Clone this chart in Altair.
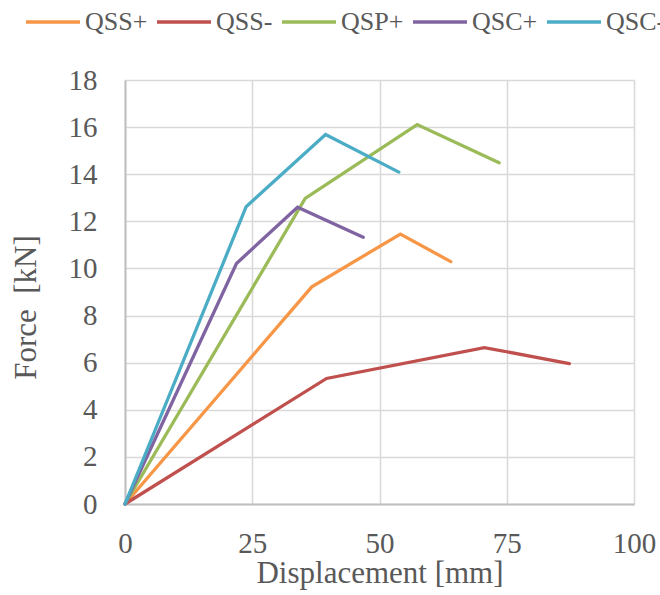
import altair as alt
import pandas as pd

series_names = ["QSS+", "QSS-", "QSP+", "QSC+", "QSC-"]
colors = ["#F79646", "#C0504D", "#9BBB59", "#8064A2", "#4BACC6"]

qss_pos_x = [0, 36.7, 54.1, 64.0]
qss_pos_y = [0, 9.22, 11.46, 10.29]
qss_neg_x = [0, 39.6, 70.6, 87.3]
qss_neg_y = [0, 5.33, 6.64, 5.96]
qsp_pos_x = [0, 35.4, 57.4, 73.5]
qsp_pos_y = [0, 12.97, 16.11, 14.49]
qsc_pos_x = [0, 21.9, 33.9, 46.8]
qsc_pos_y = [0, 10.21, 12.6, 11.32]
qsc_neg_x = [0, 23.8, 39.4, 53.8]
qsc_neg_y = [0, 12.62, 15.69, 14.09]

xs = [qss_pos_x, qss_neg_x, qsp_pos_x, qsc_pos_x, qsc_neg_x]
ys = [qss_pos_y, qss_neg_y, qsp_pos_y, qsc_pos_y, qsc_neg_y]

rows = []
for name, xv, yv in zip(series_names, xs, ys):
    for i, (a, b) in enumerate(zip(xv, yv)):
        rows.append({"series": name, "idx": i, "disp": a, "force": b})
df = pd.DataFrame(rows)

FONT = "'Liberation Serif', 'Times New Roman', serif"
TXT = "#595959"

chart = alt.Chart(df).mark_line(strokeWidth=3.3, strokeCap="round", strokeJoin="miter").encode(
    x=alt.X("disp:Q",
            scale=alt.Scale(domain=[0, 100], nice=False, zero=False),
            axis=alt.Axis(values=[0, 25, 50, 75, 100], title="Displacement [mm]",
                          ticks=False, labelPadding=48, labelBaseline="alphabetic",
                          labelFontSize=29, labelFont=FONT,
                          labelColor=TXT, titleFont=FONT, titleFontSize=31, titleColor=TXT,
                          titleFontWeight="normal", titleBaseline="alphabetic", titleY=78,
                          domainColor="#bfbfbf", domainWidth=2, gridColor="#d9d9d9", gridWidth=1.6,
                          labelFlush=False)),
    y=alt.Y("force:Q",
            scale=alt.Scale(domain=[0, 18], nice=False, zero=False),
            axis=alt.Axis(values=list(range(0, 19, 2)), title="Force\u00a0 [kN]",
                          ticks=False, labelPadding=28, labelFontSize=29, labelFont=FONT,
                          labelColor=TXT, titleFont=FONT, titleFontSize=31, titleColor=TXT,
                          titleFontWeight="normal", titleBaseline="alphabetic", titleX=-90,
                          titleY=227, titleAngle=270,
                          domainColor="#bfbfbf", domainWidth=2, gridColor="#d9d9d9", gridWidth=1.6,
                          labelFlush=False)),
    color=alt.Color("series:N",
                    scale=alt.Scale(domain=series_names, range=colors),
                    legend=alt.Legend(title=None, orient="none", direction="horizontal",
                                      legendX=-101, legendY=-87, symbolType="stroke",
                                      symbolSize=2916, symbolStrokeWidth=3.3,
                                      labelFont=FONT, labelFontSize=26, labelColor=TXT,
                                      labelOffset=3, columnPadding=2, labelLimit=200)),
    order="idx:Q",
).properties(
    width=509, height=424,
    autosize=alt.AutoSizeParams(type="none"),
    padding={"left": 125, "top": 80, "right": 26, "bottom": 91},
).configure_view(stroke=None).configure(background="white", font=FONT)

chart.save("out.html", embed_options={"renderer": "svg", "actions": False})
